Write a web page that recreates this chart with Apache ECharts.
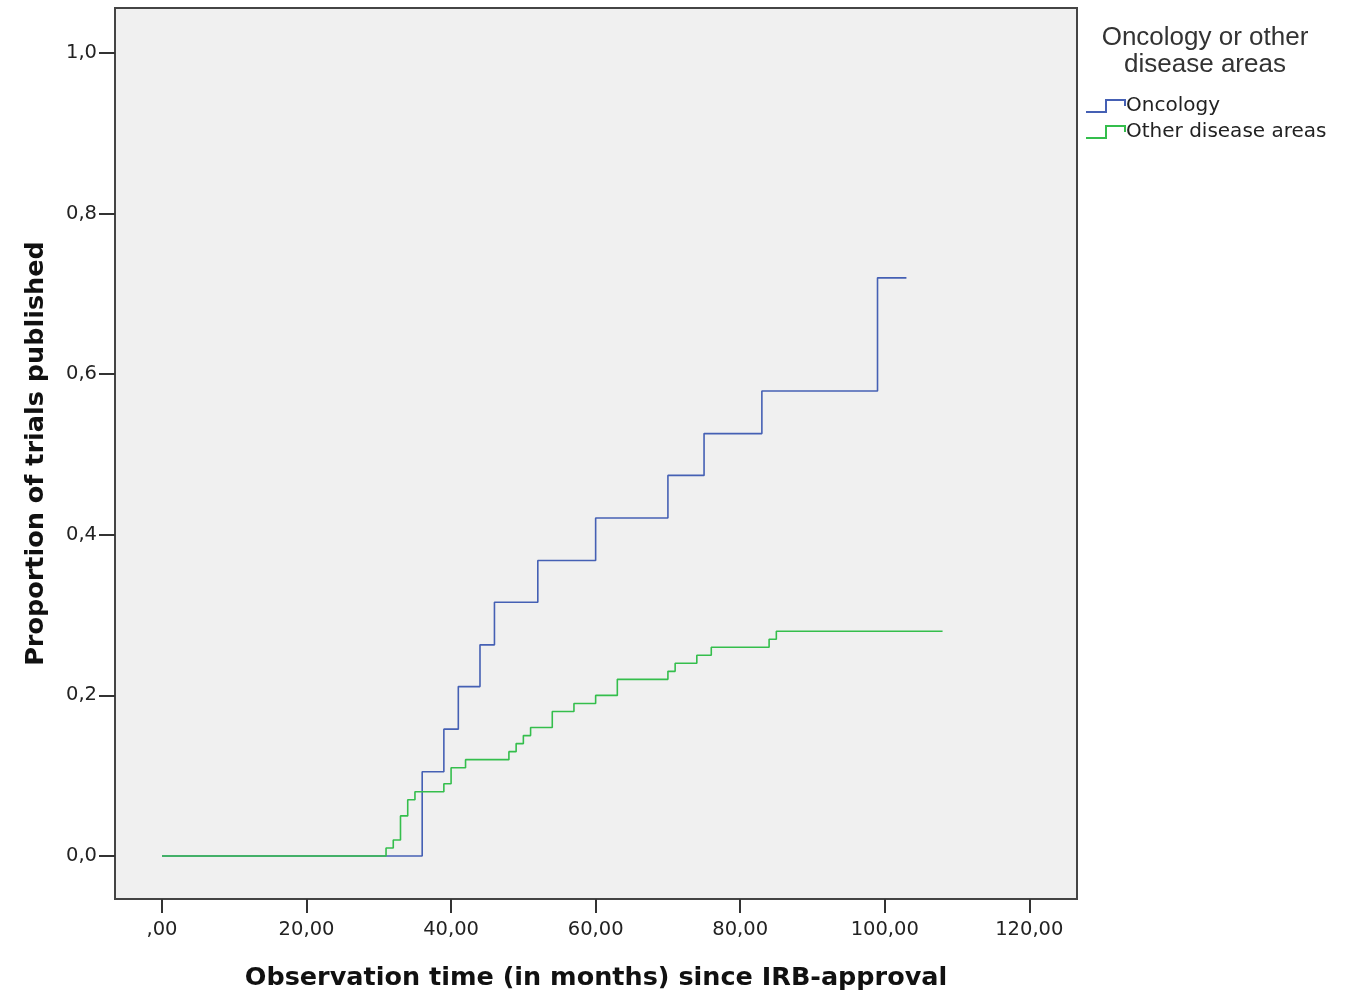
<!DOCTYPE html>
<html>
<head>
<meta charset="utf-8">
<script src="https://cdn.jsdelivr.net/npm/echarts@6/dist/echarts.min.js"></script>
<style>
html,body{margin:0;padding:0;background:#fff;}
#chart{width:1359px;height:993px;}
</style>
</head>
<body>
<div id="chart"></div>
<script>
// Data (Kaplan-Meier style cumulative curves)
const oncologyTimes = [0, 36, 39, 41, 44, 46, 52, 60, 70, 75, 83, 99, 103];
const oncologyValues = [0, 0.105, 0.158, 0.211, 0.263, 0.316, 0.368, 0.421, 0.474, 0.526, 0.579, 0.72, 0.72];
const otherTimes = [0, 31, 32, 33, 34, 35, 39, 40, 42, 48, 49, 50, 51, 54, 57, 60, 63, 70, 71, 74, 76, 84, 85, 108];
const otherValues = [0, 0.01, 0.02, 0.05, 0.07, 0.08, 0.09, 0.11, 0.12, 0.13, 0.14, 0.15, 0.16, 0.18, 0.19, 0.20, 0.22, 0.23, 0.24, 0.25, 0.26, 0.27, 0.28, 0.28];
const xTicks = [0, 20, 40, 60, 80, 100, 120];
const yTicks = [0, 0.2, 0.4, 0.6, 0.8, 1.0];
const seriesNames = ['Oncology', 'Other disease areas'];
const legendTitle = 'Oncology or other\ndisease areas';
const xName = 'Observation time (in months) since IRB-approval';
const yName = 'Proportion of trials published';

const toPairs = (xs, ys) => xs.map((x, i) => [x, ys[i]]);
const stepIcon = 'path://M0,12 L19,12 L19,0 L40,0 L40,7 L38,7 L38,2 L21,2 L21,14 L0,14 Z';

const chart = echarts.init(document.getElementById('chart'));
chart.setOption({
  animation: false,
  backgroundColor: '#ffffff',
  textStyle: { fontFamily: 'DejaVu Sans' },
  grid: {
    left: 115, right: 282, top: 8, bottom: 94,
    outerBoundsMode: 'none', containLabel: false,
    show: true, backgroundColor: '#f0f0f0', borderColor: '#444', borderWidth: 2
  },
  graphic: [{
    type: 'text', x: 1205, y: 24,
    style: {
      text: legendTitle, fontFamily: 'Liberation Sans', fontSize: 26,
      fill: '#333', align: 'center', textAlign: 'center', lineHeight: 27
    }
  }],
  legend: {
    orient: 'vertical', left: 1081, top: 91,
    itemWidth: 40, itemHeight: 14, itemGap: 6,
    textStyle: { fontFamily: 'DejaVu Sans', fontSize: 20, color: '#222', padding: [0,0,0,-5] },
    data: [
      { name: seriesNames[0], icon: stepIcon },
      { name: seriesNames[1], icon: stepIcon }
    ]
  },
  xAxis: {
    type: 'value', min: -6.5, max: 126.6,
    name: xName, nameLocation: 'middle', nameGap: 66,
    nameTextStyle: { fontFamily: 'DejaVu Sans', fontWeight: 'bold', fontSize: 25.5, color: '#111' },
    axisLine: { show: false, onZero: false },
    axisTick: { show: true, length: 14, customValues: xTicks, lineStyle: { color: '#333', width: 2 } },
    axisLabel: {
      customValues: xTicks, margin: 21, fontSize: 19.5, color: '#222',
      formatter: v => v === 0 ? ',00' : v.toFixed(2).replace('.', ',')
    },
    splitLine: { show: false }
  },
  yAxis: {
    type: 'value', min: -0.0535, max: 1.056,
    name: yName, nameLocation: 'middle', nameGap: 66,
    nameTextStyle: { fontFamily: 'DejaVu Sans', fontWeight: 'bold', fontSize: 25.5, color: '#111' },
    axisLine: { show: false, onZero: false },
    axisTick: { show: true, length: 16, customValues: yTicks, lineStyle: { color: '#333', width: 2 } },
    axisLabel: {
      customValues: yTicks, margin: 18, fontSize: 19.5, color: '#222',
      formatter: v => v.toFixed(1).replace('.', ',')
    },
    splitLine: { show: false }
  },
  series: [
    {
      name: seriesNames[0], type: 'line', step: 'end', showSymbol: false,
      data: toPairs(oncologyTimes, oncologyValues),
      color: '#4560B4', lineStyle: { color: '#4560B4', width: 1.6 }
    },
    {
      name: seriesNames[1], type: 'line', step: 'end', showSymbol: false,
      data: toPairs(otherTimes, otherValues),
      color: '#34BE4C', lineStyle: { color: '#34BE4C', width: 1.6 }
    }
  ]
});
</script>
</body>
</html>
